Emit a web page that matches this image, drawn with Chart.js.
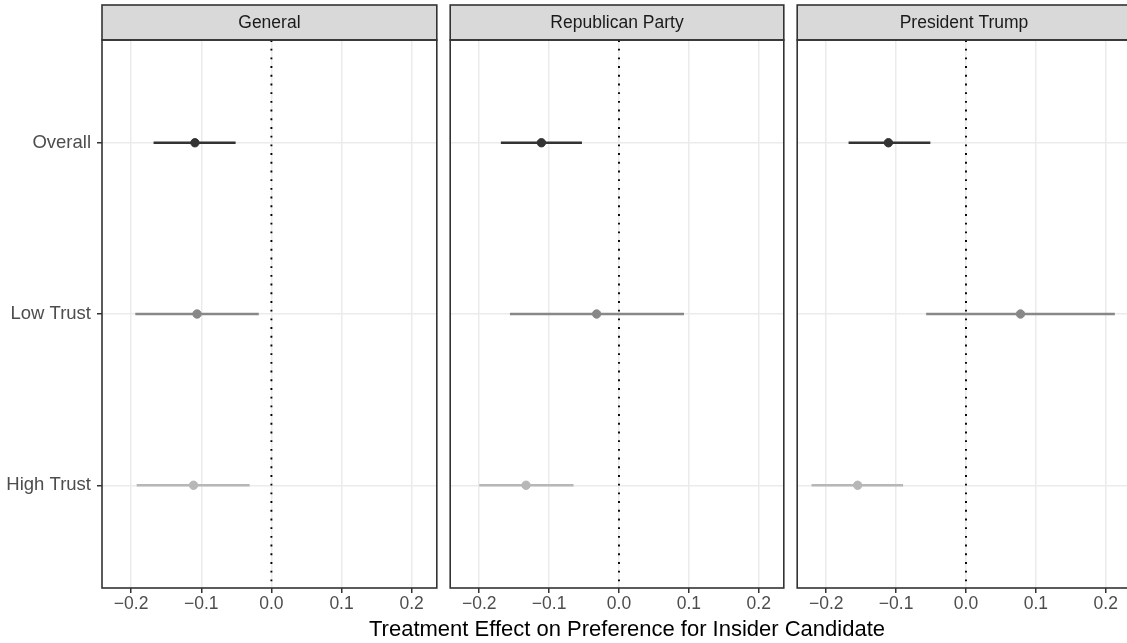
<!DOCTYPE html>
<html>
<head>
<meta charset="utf-8">
<script src="https://cdn.jsdelivr.net/npm/chart.js@4.4.0/dist/chart.umd.min.js"></script>
<style>
  html, body { margin: 0; padding: 0; background: #fff; overflow: hidden; }
  body { width: 1127px; height: 643px; position: relative; }
  canvas { position: absolute; top: 0; }
  #xtitle {
    position: absolute; left: 327px; width: 600px; top: 616px; line-height: 25px;
    text-align: center; font-family: "Liberation Sans", Arial, sans-serif; font-size: 22px; color: #000;
    white-space: nowrap;
  }
</style>
</head>
<body>
<canvas id="p0" width="442" height="643" style="left:0px;width:442px;height:643px"></canvas>
<canvas id="p1" width="344" height="643" style="left:445px;width:344px;height:643px"></canvas>
<canvas id="p2" width="344" height="643" style="left:792px;width:344px;height:643px"></canvas>
<div id="xtitle">Treatment Effect on Preference for Insider Candidate</div>
<script>
// facets and rows
const panels = ['General', 'Republican Party', 'President Trump'];
const categories = ['Overall', 'Low Trust', 'High Trust'];
const catColors = ['#333333', '#888888', '#b7b7b7'];

// estimates and 95% intervals, one array per panel, rows in category order
const estGeneral = [-0.109, -0.106, -0.111];
const lowGeneral = [-0.168, -0.194, -0.192];
const highGeneral = [-0.051, -0.018, -0.031];

const estParty = [-0.111, -0.032, -0.133];
const lowParty = [-0.169, -0.156, -0.200];
const highParty = [-0.053, 0.093, -0.065];

const estTrump = [-0.111, 0.078, -0.155];
const lowTrump = [-0.168, -0.057, -0.221];
const highTrump = [-0.051, 0.213, -0.090];

const xTicks = [-0.2, -0.1, 0.0, 0.1, 0.2];
const xMin = -0.2415, xMax = 0.2358;

const FONT = '"Liberation Sans", Arial, sans-serif';

// strip header + panel border, drawn after everything like ggplot
const facetDecor = {
  id: 'facetDecor',
  afterDraw(chart, args, opts) {
    const { ctx, chartArea: a } = chart;
    ctx.save();
    ctx.fillStyle = '#d9d9d9';
    ctx.fillRect(a.left, a.top - 35, a.right - a.left, 35);
    ctx.strokeStyle = '#333333';
    ctx.lineWidth = 1.6;
    ctx.strokeRect(a.left, a.top - 35, a.right - a.left, 35);
    ctx.strokeRect(a.left, a.top, a.right - a.left, a.bottom - a.top);
    ctx.fillStyle = '#1a1a1a';
    ctx.font = '17.5px ' + FONT;
    ctx.textAlign = 'center';
    ctx.textBaseline = 'middle';
    ctx.fillText(opts.title, (a.left + a.right) / 2, a.top - 17);
    ctx.restore();
  }
};

function makePanel(id, title, est, lo, hi, showY) {
  const datasets = [];
  // points on top
  datasets.push({
    type: 'scatter',
    data: est.map((v, i) => ({ x: v, y: i + 1 })),
    pointBackgroundColor: catColors,
    pointBorderColor: catColors,
    pointRadius: 4.2,
    pointBorderWidth: 1
  });
  // reference line at zero
  datasets.push({
    type: 'line',
    data: [{ x: 0, y: 0.4 }, { x: 0, y: 3.6 }],
    borderColor: '#000000',
    borderWidth: 1.9,
    borderDash: [1.9, 6.8],
    pointRadius: 0
  });
  // interval lines
  categories.forEach((c, i) => {
    datasets.push({
      type: 'line',
      data: [{ x: lo[i], y: i + 1 }, { x: hi[i], y: i + 1 }],
      borderColor: catColors[i],
      borderWidth: 2.3,
      pointRadius: 0
    });
  });

  return new Chart(document.getElementById(id), {
    type: 'scatter',
    data: { datasets },
    plugins: [facetDecor],
    options: {
      responsive: false,
      animation: false,
      events: [],
      layout: { padding: { top: 40, left: showY ? 0 : 4, right: showY ? 4 : 0, bottom: 0 } },
      plugins: {
        legend: { display: false },
        tooltip: { enabled: false },
        facetDecor: { title }
      },
      scales: {
        x: {
          type: 'linear',
          min: xMin,
          max: xMax,
          afterBuildTicks: s => { s.ticks = xTicks.map(v => ({ value: v })); },
          afterFit: s => { s.height = 55; },
          grid: { color: '#ebebeb', lineWidth: 1.5, tickColor: '#333333', tickLength: 5 },
          border: { display: false },
          ticks: {
            color: '#4d4d4d',
            font: { family: FONT, size: 17.5 },
            padding: 1,
            maxRotation: 0,
            callback: v => v.toFixed(1).replace('-', '\u2212')
          }
        },
        y: {
          type: 'linear',
          reverse: true,
          min: 0.4,
          max: 3.6,
          afterBuildTicks: s => { s.ticks = categories.map((c, i) => ({ value: i + 1 })); },
          afterFit: s => { s.width = showY ? 102 : 0; },
          grid: {
            color: '#ebebeb', lineWidth: 1.5, tickColor: '#333333',
            tickLength: 5, drawTicks: showY
          },
          border: { display: false },
          ticks: {
            display: showY,
            color: '#4d4d4d',
            font: { family: FONT, size: 18.5 },
            padding: 6,
            callback: v => categories[Math.round(v) - 1]
          }
        }
      }
    }
  });
}

makePanel('p0', panels[0], estGeneral, lowGeneral, highGeneral, true);
makePanel('p1', panels[1], estParty, lowParty, highParty, false);
makePanel('p2', panels[2], estTrump, lowTrump, highTrump, false);
</script>
</body>
</html>
